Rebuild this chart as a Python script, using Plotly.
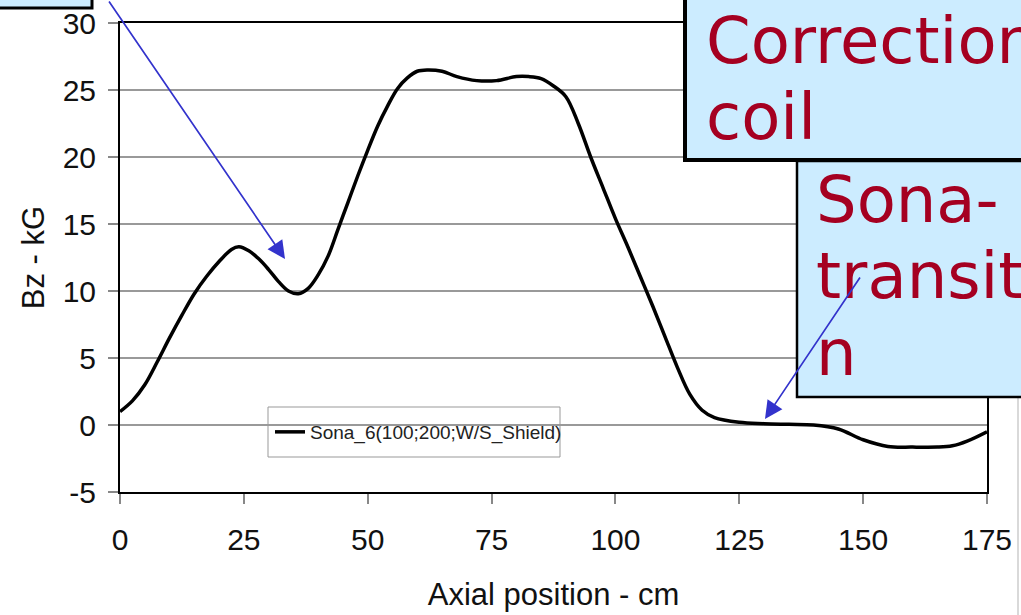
import plotly.graph_objects as go

# ---- data ----
axial_cm = [0, 2.5, 5, 7.5, 10, 12.5, 15, 17.5, 20, 22.5, 24, 26, 28, 30, 32, 34, 36, 38, 40,
            42, 44, 46, 48, 50, 52, 54, 56, 58, 60, 62, 65, 68, 72, 76, 80, 82.5, 85, 87.5,
            90, 92.5, 95, 97.5, 100, 102.5, 105, 107.5, 110, 112.5, 115, 117.5, 120, 125,
            130, 135, 140, 145, 150, 155, 160, 165, 168, 171, 175]
bz_kg = [1.0, 1.8, 3.0, 4.7, 6.5, 8.2, 9.8, 11.1, 12.2, 13.1, 13.3, 13.0, 12.4, 11.6, 10.7,
         10.0, 9.8, 10.2, 11.2, 12.6, 14.6, 16.6, 18.6, 20.5, 22.3, 23.8, 25.1, 25.9, 26.4,
         26.5, 26.4, 26.0, 25.7, 25.7, 26.0, 26.0, 25.85, 25.3, 24.5, 22.5, 20.0, 17.7, 15.4,
         13.3, 11.1, 8.9, 6.6, 4.3, 2.3, 1.1, 0.55, 0.2, 0.1, 0.05, 0.0, -0.3, -1.1, -1.6,
         -1.65, -1.65, -1.55, -1.2, -0.5]
series_name = "Sona_6(100;200;W/S_Shield)"
x_ticks = [0, 25, 50, 75, 100, 125, 150, 175]
y_ticks = [-5, 0, 5, 10, 15, 20, 25, 30]
box1_lines = ["Correction", "coil"]
box2_lines = ["Sona-", "transitio", "n"]

W, H = 1021, 615
L, R, T, B = 120, 34, 23, 123
PW, PH = W - L - R, H - T - B


def px(xp):
    return (xp - L) / PW


def py(yp):
    return (H - B - yp) / PH


BOX_FILL = "#CCECFF"
TEXT_RED = "#A50021"
ARROW = "#3333CC"

fig = go.Figure()
fig.add_trace(go.Scatter(x=axial_cm, y=bz_kg, mode="lines", name=series_name,
                         line=dict(color="black", width=3.5, shape="spline", smoothing=1.0)))

shapes = [
    # legend frame
    dict(type="rect", xref="paper", yref="paper", x0=px(268), x1=px(560), y0=py(457), y1=py(407),
         fillcolor="white", line=dict(color="#999999", width=1), layer="between"),
    # scan edge line
    dict(type="line", xref="paper", yref="paper", x0=px(1018), x1=px(1018), y0=py(398), y1=py(620),
         line=dict(color="#CCCCCC", width=1.5), layer="above"),
    # top-left box
    dict(type="rect", xref="paper", yref="paper", x0=px(-10), x1=px(92), y0=py(8), y1=py(-20),
         fillcolor=BOX_FILL, line=dict(color="black", width=3), layer="above"),
    # Correction coil box
    dict(type="rect", xref="paper", yref="paper", x0=px(685), x1=px(1040), y0=py(160), y1=py(-20),
         fillcolor=BOX_FILL, line=dict(color="black", width=4), layer="above"),
    # Sona-transition box
    dict(type="rect", xref="paper", yref="paper", x0=px(797), x1=px(1040), y0=py(397), y1=py(161),
         fillcolor=BOX_FILL, line=dict(color="black", width=2.5), layer="above"),
]

annotations = []
FS = 64
for i, t in enumerate(box1_lines):
    base = 63.5 + 76 * i
    annotations.append(dict(xref="paper", yref="paper", x=px(704), y=py(base - 0.35 * FS),
                            xanchor="left", yanchor="middle", text=t, showarrow=False,
                            font=dict(family="DejaVu Sans", size=FS, color=TEXT_RED)))
for i, t in enumerate(box2_lines):
    base = 222 + 76.8 * i
    annotations.append(dict(xref="paper", yref="paper", x=px(814), y=py(base - 0.35 * FS),
                            xanchor="left", yanchor="middle", text=t, showarrow=False,
                            font=dict(family="DejaVu Sans", size=FS, color=TEXT_RED)))

# arrows (tip in data coords, tail offset in px)
annotations.append(dict(x=(285 - L) / PW * 175, y=(425 - 259) / 13.4, xref="x", yref="y",
                        ax=108 - 285, ay=0 - 259, axref="pixel", ayref="pixel", text="",
                        showarrow=True, arrowhead=2, arrowsize=2.1, arrowwidth=1.7,
                        arrowcolor=ARROW))
annotations.append(dict(x=(765 - L) / PW * 175, y=(425 - 419) / 13.4, xref="x", yref="y",
                        ax=861 - 765, ay=276 - 419, axref="pixel", ayref="pixel", text="",
                        showarrow=True, arrowhead=2, arrowsize=2.1, arrowwidth=1.7,
                        arrowcolor=ARROW))

fig.update_layout(
    width=W, height=H,
    margin=dict(l=L, r=R, t=T, b=B),
    paper_bgcolor="white", plot_bgcolor="white",
    font=dict(family="Liberation Sans, Arial", color="#111111"),
    showlegend=True,
    legend=dict(x=px(270), y=py(432), xanchor="left", yanchor="middle",
                bgcolor="rgba(0,0,0,0)", borderwidth=0,
                font=dict(family="Liberation Sans, Arial", size=19, color="#222222")),
    shapes=shapes,
    annotations=annotations,
    xaxis=dict(range=[0, 175], tickvals=x_ticks, ticktext=[str(v) for v in x_ticks],
               showgrid=False, zeroline=False, showline=True, linecolor="black", linewidth=2,
               mirror=True, ticks="outside", ticklen=10, tickcolor="#888888", tickwidth=1.5,
               tickfont=dict(size=30), ticklabelstandoff=10, automargin=False,
               title=dict(text="Axial position - cm", font=dict(size=31), standoff=28)),
    yaxis=dict(range=[-5, 30], tickvals=y_ticks, ticktext=[str(v) for v in y_ticks],
               showgrid=True, gridcolor="#999999", gridwidth=1.5, zeroline=False,
               showline=True, linecolor="black", linewidth=2, mirror=True,
               ticks="outside", ticklen=10, tickcolor="#888888", tickwidth=1.5,
               tickfont=dict(size=30), ticklabelstandoff=6, automargin=False,
               title=dict(text="Bz - kG", font=dict(size=31), standoff=9)),
)

fig.write_html("out.html")
